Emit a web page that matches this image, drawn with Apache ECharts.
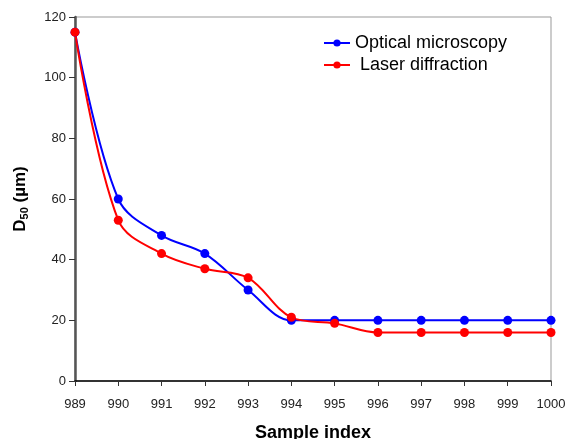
<!DOCTYPE html>
<html>
<head>
<meta charset="utf-8">
<script src="https://cdn.jsdelivr.net/npm/echarts@6/dist/echarts.min.js"></script>
<style>html,body{margin:0;padding:0;background:#fff;}#c{width:570px;height:439px;}</style>
</head>
<body>
<div id="c"></div>
<script>
const categories = ['989','990','991','992','993','994','995','996','997','998','999','1000'];
const optical = [115, 60, 48, 42, 30, 20, 20, 20, 20, 20, 20, 20];
const laser = [115, 53, 42, 37, 34, 21, 19, 16, 16, 16, 16, 16];
const yTicks = [0, 20, 40, 60, 80, 100, 120];

const chart = echarts.init(document.getElementById('c'));
const font = 'Liberation Sans, Arial, sans-serif';
chart.setOption({
  animation: false,
  backgroundColor: '#fff',
  grid: {left: 75, right: 19, top: 17, bottom: 58, show: true, borderColor: '#999', borderWidth: 1,
         containLabel: false, outerBoundsMode: 'none'},
  legend: {
    left: 318, top: 29, orient: 'vertical', itemGap: 4, itemWidth: 26, itemHeight: 9,
    textStyle: {fontFamily: font, fontSize: 18, color: '#000'},
    data: ['Optical microscopy', ' Laser diffraction']
  },
  xAxis: {
    type: 'category', data: categories, boundaryGap: false,
    name: 'Sample index', nameLocation: 'middle', nameGap: 43,
    nameTextStyle: {fontFamily: font, fontSize: 18, fontWeight: 'bold', color: '#000'},
    axisLine: {lineStyle: {color: '#000', width: 1.5}},
    axisTick: {show: true, length: 5, lineStyle: {color: '#333'}, alignWithLabel: true},
    axisLabel: {fontFamily: font, fontSize: 13, color: '#222', margin: 17},
    splitLine: {show: false}
  },
  yAxis: {
    type: 'value', min: 0, max: 120, interval: 20,
    name: '{b|D}{s|50}{b| (µm)}', nameLocation: 'middle', nameGap: 45,
    nameTextStyle: {rich: {
      b: {fontFamily: font, fontSize: 17, fontWeight: 'bold', color: '#000'},
      s: {fontFamily: font, fontSize: 11, fontWeight: 'bold', color: '#000', verticalAlign: 'bottom', padding: [9,0,0,0]}
    }},
    axisLine: {show: true, lineStyle: {color: '#555', width: 2.5}},
    axisTick: {show: true, length: 6, lineStyle: {color: '#333'}},
    axisLabel: {fontFamily: font, fontSize: 13, color: '#222', margin: 9,
      formatter: v => yTicks.includes(v) ? String(v) : ''},
    splitLine: {show: false}
  },
  series: [
    {name: 'Optical microscopy', type: 'line', data: optical, smooth: 0.35,
     symbol: 'circle', symbolSize: 9, color: '#0000ff', lineStyle: {width: 2, color: '#0000ff'}, itemStyle: {color: '#0000ff'}},
    {name: ' Laser diffraction', type: 'line', data: laser, smooth: 0.35,
     symbol: 'circle', symbolSize: 9, color: '#ff0000', lineStyle: {width: 2, color: '#ff0000'}, itemStyle: {color: '#ff0000'}}
  ]
});
</script>
</body>
</html>
